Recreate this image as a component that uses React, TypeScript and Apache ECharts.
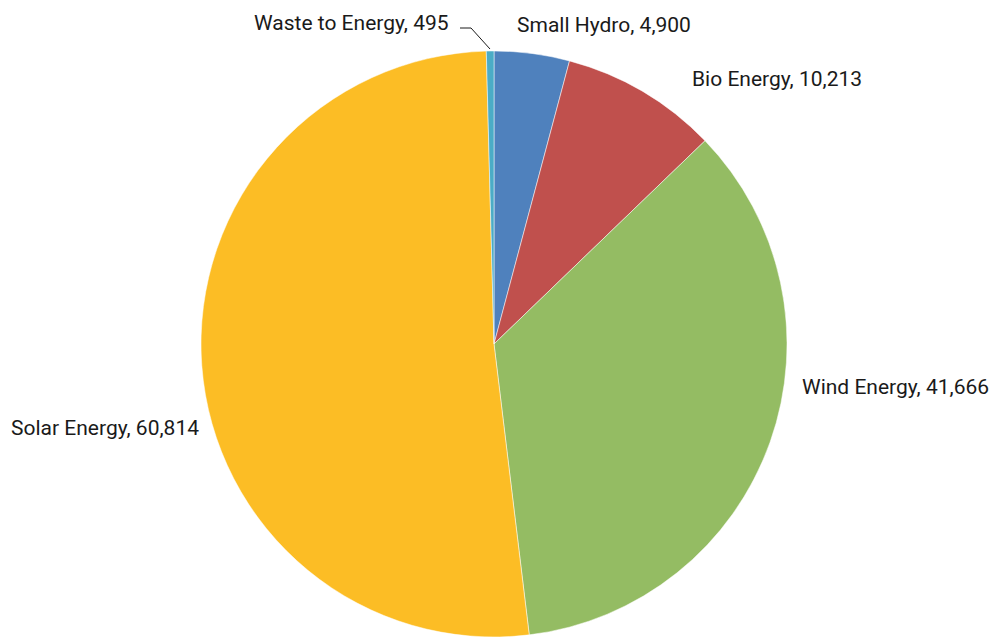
import React, { useEffect, useRef } from "react";
import * as echarts from "echarts";

const categories = ["Small Hydro", "Bio Energy", "Wind Energy", "Solar Energy", "Waste to Energy"];
const values = [4900, 10213, 41666, 60814, 495];
const colors = ["#4F81BD", "#C0504D", "#94BC63", "#FCBD25", "#4BACC6"];

// label anchor positions (left edge x, vertical centre y)
const labelAnchors: [number, number][] = [
  [517, 25],
  [692, 79],
  [802, 387],
  [11, 428],
  [254, 23],
];

export default function App() {
  const ref = useRef<HTMLDivElement>(null);
  useEffect(() => {
    if (!ref.current) return;
    const chart = echarts.init(ref.current, undefined, { renderer: "svg" });
    chart.setOption({
      animation: false,
      backgroundColor: "#ffffff",
      series: [
        {
          type: "pie",
          center: [494, 344],
          radius: 293,
          startAngle: 90,
          clockwise: true,
          data: categories.map((name, i) => ({
            name,
            value: values[i],
            itemStyle: { color: colors[i] },
            labelLine: { show: i === 4 },
          })),
          itemStyle: { borderColor: "#ffffff", borderWidth: 0.5 },
          label: {
            show: true,
            position: "outside",
            overflow: "none",
            alignTo: "none",
            formatter: (p: any) => `${p.name}, ${Number(p.value).toLocaleString("en-US")}`,
            fontFamily: "Roboto, sans-serif",
            fontSize: 21,
            color: "#1a1a1a",
          },
          labelLine: {
            lineStyle: { color: "#1a1a1a", width: 1 },
          },
          labelLayout: (params: any) => {
            const a = labelAnchors[params.dataIndex];
            const res: any = {
              x: a[0],
              y: a[1],
              align: "left",
              verticalAlign: "middle",
            };
            if (params.dataIndex === 4) {
              res.labelLinePoints = [
                [490, 49],
                [471, 28],
                [460, 28],
              ];
            }
            return res;
          },
        },
      ],
    });
    return () => chart.dispose();
  }, []);
  return (
    <div
      ref={ref}
      style={{ position: "fixed", left: 0, top: 0, width: 992, height: 639, overflow: "hidden" }}
    />
  );
}
